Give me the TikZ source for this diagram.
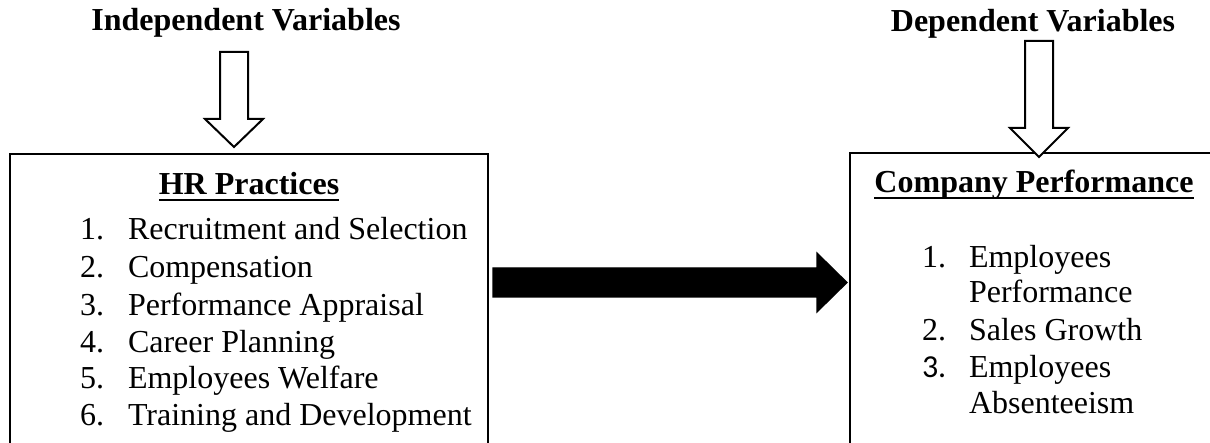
\documentclass[tikz,border=0pt]{standalone}
\usepackage{fontspec}
\setmainfont{Liberation Serif}
\newfontfamily\calibrifont{Carlito}
\usepackage{tikz}
\usetikzlibrary{positioning,calc}
\tikzset{
  every picture/.style={line width=1pt},
  frame/.style={draw=black, line width=1pt},
  head/.style={font=\fontsize{16}{18.5}\selectfont\bfseries, inner sep=0pt, anchor=base},
  item/.style={font=\fontsize{16}{18.5}\selectfont, inner sep=0pt, anchor=base west},
  hollow/.style={draw=black, fill=white, line width=1pt, line join=miter},
  blockarrow/.style={draw=black, fill=black, line width=0.6pt},
}
\newcommand{\headline}[1]{\setbox0\hbox{#1}\rlap{\rule[-3pt]{\wd0}{1pt}}\box0}

\begin{document}
\begin{tikzpicture}[x=0.5pt, y=-0.5pt]
  \useasboundingbox (0,0) rectangle (1210,443);
  % the two boxes run off the bottom of the page
  \draw[frame] (10,154) rectangle (488,480);
  \draw[frame] (850,153) rectangle (1240,480);

  \node[head] (iv) at (246,31) {Independent Variables};
  \node[head] (dv) at (1033,32) {Dependent Variables};
  \node[head] (hr) at (249,195) {\headline{HR Practices}};
  \node[head] (cp) at (1034,193) {\headline{Company Performance}};

  \newcommand{\dnarrow}[4]{% centre, top, head start, tip
    \draw[hollow] (#1-14,#2) -- (#1+14,#2) -- (#1+14,#3) -- (#1+29,#3)
      -- (#1,#4) -- (#1-29,#3) -- (#1-14,#3) -- cycle;}
  \dnarrow{234}{52}{119}{147}
  \dnarrow{1039}{41}{128}{157}

  \foreach \n/\y/\txt in {1/240/Recruitment and Selection, 2/278/Compensation,
      3/315/Performance Appraisal, 4/352/Career Planning,
      5/388/Employees Welfare, 6/425/Training and Development} {
    \node[item] (hrnum\n) at (79,\y) {\n.};
    \node[item] (hr\n) at (127,\y) {\txt};
  }

  \node[item] (cpnum1) at (921,268) {1.};
  \node[item] (cp1) at (968,268) {Employees};
  \node[item] (cp1b) at (968,303) {Performance};
  \node[item] (cpnum2) at (921,340) {2.};
  \node[item] (cp2) at (968,340) {Sales Growth};
  \node[item] (cpnum3) at (921,377) {\calibrifont 3.};
  \node[item] (cp3) at (968,377) {Employees};
  \node[item] (cp3b) at (968,413) {Absenteeism};

  % fat arrow between the boxes
  \draw[blockarrow] (493,268) -- (817,268) -- (817,253) -- (847,282.5)
    -- (817,312) -- (817,297) -- (493,297) -- cycle;
\end{tikzpicture}
\end{document}
